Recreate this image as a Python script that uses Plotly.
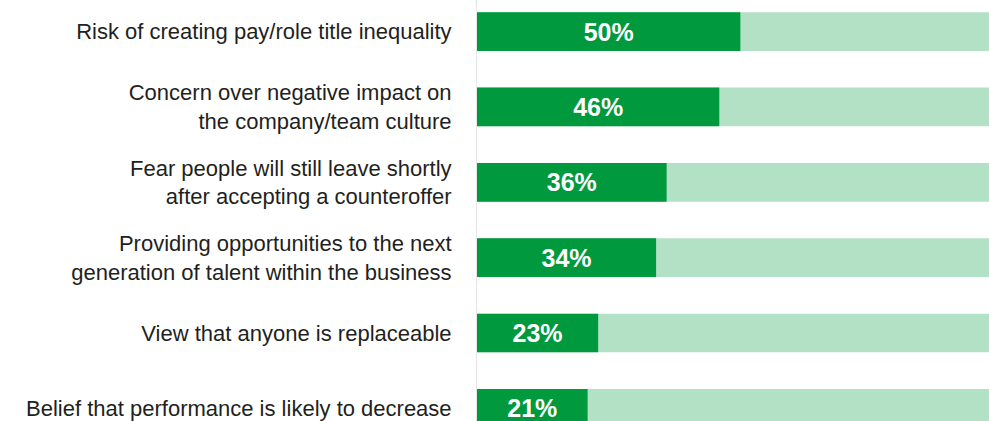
import plotly.graph_objects as go

categories = [
    "Risk of creating pay/role title inequality",
    "Concern over negative impact on<br>the company/team culture",
    "Fear people will still leave shortly<br>after accepting a counteroffer",
    "Providing opportunities to the next<br>generation of talent within the business",
    "View that anyone is replaceable",
    "Belief that performance is likely to decrease",
]
values = [50, 46, 36, 34, 23, 21]
labels = ["50%", "46%", "36%", "34%", "23%", "21%"]
totals = [100, 100, 100, 100, 100, 100]

pos = list(range(len(categories)))

fig = go.Figure()
fig.add_trace(go.Bar(
    y=pos, x=totals, orientation="h",
    marker=dict(color="#b3e1c6", line=dict(width=0)),
    width=0.514, hoverinfo="skip", showlegend=False,
))
fig.add_trace(go.Bar(
    y=pos, x=values, orientation="h",
    marker=dict(color="#00993d", line=dict(width=0)),
    width=0.514, text=labels, textposition="inside",
    insidetextanchor="middle",
    textfont=dict(family="Liberation Sans, Arial, sans-serif", size=25, color="white"),
    texttemplate="<b>%{text}</b>",
    showlegend=False,
))

fig.update_layout(
    barmode="overlay",
    width=989, height=421,
    margin=dict(l=477, r=0, t=0, b=0),
    paper_bgcolor="white", plot_bgcolor="white",
    xaxis=dict(range=[0, 97.2], visible=False, fixedrange=True),
    yaxis=dict(
        range=[5.168, -0.42],
        tickvals=pos, ticktext=categories,
        tickfont=dict(family="Liberation Sans, Arial, sans-serif", size=22, color="#231f20"),
        ticks="outside", ticklen=20, tickcolor="rgba(0,0,0,0)",
        ticklabeloverflow="allow",
        showline=True, linecolor="#e6e6e6", linewidth=1,
        showgrid=False, zeroline=False,
    ),
    uniformtext=dict(minsize=8, mode="show"),
)

fig.write_html("out.html")
